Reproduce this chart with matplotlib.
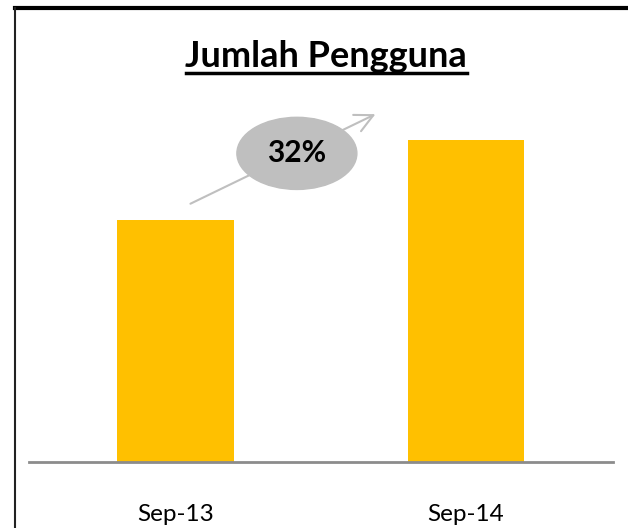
import matplotlib.pyplot as plt
from matplotlib.patches import Ellipse
from matplotlib.lines import Line2D

# data
periods = ["Sep-13", "Sep-14"]
users = [100, 133]
growth_label = "32%"
title = "Jumlah Pengguna"

W, H = 628, 528
plt.rcParams['font.family'] = ['Lato', 'DejaVu Sans']

fig = plt.figure(figsize=(W / 100, H / 100), dpi=100)
# axes placed in pixel terms: baseline at y=462, spans x 29..613
ax = fig.add_axes([29 / W, (H - 462) / H, 584 / W, 442 / H])

x = range(len(periods))
ax.bar(x, users, width=0.4, color="#FFC000", zorder=2)
ax.set_xlim(-0.504, 1.506)
ax.set_ylim(0, 182.6)

for s in ["top", "right", "left"]:
    ax.spines[s].set_visible(False)
ax.spines["bottom"].set_color("#8c8c8c")
ax.spines["bottom"].set_linewidth(2)
ax.set_yticks([])
ax.set_xticks(list(x))
ax.set_xticklabels(periods, fontsize=17.5)
ax.tick_params(axis="x", length=0, pad=30)

# growth arrow + ellipse badge
ax.annotate("", xy=(0.697, 144.2), xytext=(0.043, 106.2),
            arrowprops=dict(arrowstyle="->,head_length=1.3,head_width=0.65",
                            color="#bfbfbf", lw=1.5), zorder=3)
ax.add_patch(Ellipse((0.418, 127.5), 0.413, 29.8, color="#bfbfbf", zorder=4))
ax.text(0.418, 127.5, growth_label, ha="center", va="center",
        fontsize=21.5, fontweight="bold", zorder=5)

# title with underline
fig.text(326 / W, 1 - 67 / H, title, ha="center", va="baseline",
         fontsize=26, fontweight="bold")
fig.add_artist(Line2D([186 / W, 467 / W], [1 - 73 / H, 1 - 73 / H],
                      color="black", lw=2.5))

# frame (top and left visible)
fig.add_artist(Line2D([15 / W, 1.0], [1 - 8 / H, 1 - 8 / H], color="black", lw=3))
fig.add_artist(Line2D([15 / W, 15 / W], [0, 1 - 8 / H], color="#222222", lw=1.5))

fig.savefig("out.png", dpi=100)
